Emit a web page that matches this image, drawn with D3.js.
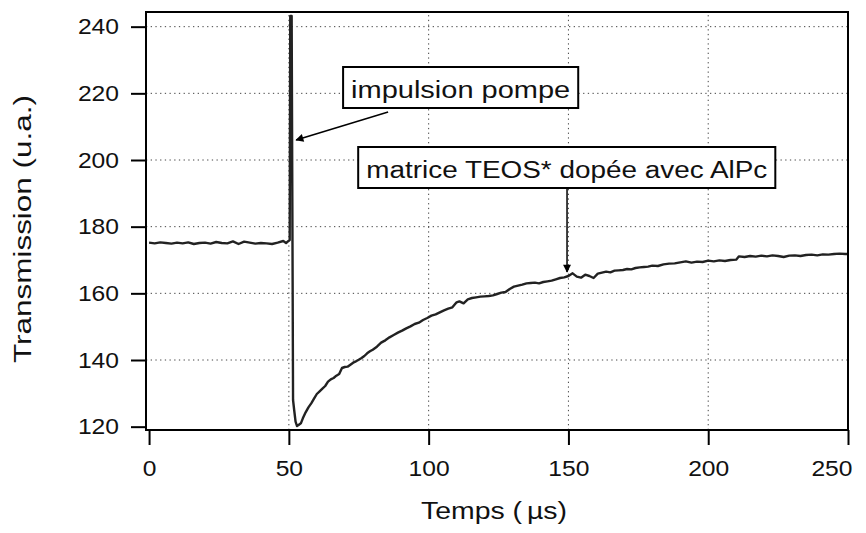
<!DOCTYPE html>
<html>
<head>
<meta charset="utf-8">
<script src="https://cdn.jsdelivr.net/npm/d3@7"></script>
<style>
  html, body { margin: 0; padding: 0; background: #fff; }
  svg { display: block; }
  text { font-family: "Liberation Sans", Arial, Helvetica, sans-serif; fill: #111; }
</style>
</head>
<body>
<svg id="chart" width="866" height="533"></svg>
<script>
// Time axis (µs) and transmission trace (u.a.)
const timeUs = [
  0, 2, 4, 6, 8, 10, 12, 14, 16, 18, 20, 22, 24, 26, 28, 30, 32, 34, 36, 38, 40, 42, 44, 46, 48, 49, 50,
  50.3, 50.5, 51.0, 51.3, 51.5, 51.9, 52.4, 52.9,
  53.6, 54.3, 55, 56, 57, 58, 59, 60, 61, 62, 63, 64, 65, 66, 67, 68, 69, 70, 71, 72, 73, 74, 75, 76, 77, 78, 79, 80,
  81.5, 83, 84.5, 86, 87.5, 89, 90.5, 92, 93.5, 95, 96.5, 98, 99.5, 101, 102.5, 104, 105.5, 107, 108.5,
  110, 111, 112.5, 114, 115.5, 117, 118.5, 120, 121.5, 123, 124.5, 126, 127.5, 129, 130.5, 132, 133.5,
  135, 136.5, 138, 139.5, 141, 142.5, 144, 145.5, 147, 148.5, 150, 151.5, 153, 154.5, 156, 157.5, 159,
  160.5, 162, 163.5, 165, 166.5, 168, 169.5, 171, 172.5, 174, 175.5, 177, 178.5, 180, 182, 184, 186, 188,
  190, 192, 194, 196, 198, 200, 202, 204, 206, 208, 210, 211, 213, 215, 217, 219, 221, 223, 225, 227, 229,
  231, 233, 235, 237, 239, 241, 243, 245, 247, 249, 250
];
const transmission = [
  175.2, 175.0, 175.3, 175.1, 174.9, 175.2, 175.0, 175.3, 174.8, 175.1, 175.2, 174.9, 175.4, 175.1, 175.0, 175.6, 174.8, 175.5, 175.2, 174.9, 175.1, 175.0, 174.8, 175.2, 175.7, 175.1, 175.8,
  176.0, 243.2, 243.2, 175.0, 128.0, 125.0, 121.5, 120.2,
  120.6, 121.0, 122.5, 124.3, 125.8, 127.0, 128.4, 129.8, 130.6, 131.4, 132.2, 133.5, 134.2, 134.6, 135.3, 135.8, 137.6, 137.9, 138.0, 138.6, 139.2, 139.6, 140.1, 140.6, 141.2, 142.0, 142.6, 143.1,
  144.0, 145.2, 145.9, 146.8, 147.5, 148.2, 148.8, 149.5, 150.1, 150.8, 151.2, 152.0, 152.6, 153.3, 153.7, 154.3, 154.9, 155.4, 155.8,
  157.3, 157.6, 157.0, 158.2, 158.6, 158.8, 159.0, 159.1, 159.2, 159.4, 159.8, 160.2, 160.4, 161.3, 162.0, 162.3, 162.6,
  163.0, 163.1, 163.2, 163.0, 163.4, 163.6, 163.8, 164.2, 164.6, 164.8, 165.2, 166.0, 165.0, 164.7, 165.6, 165.2, 164.6,
  165.9, 166.2, 166.5, 166.3, 166.8, 166.9, 167.0, 167.3, 167.2, 167.6, 167.8, 167.9, 168.0, 168.3, 168.2, 168.7, 168.9, 169.0,
  169.3, 169.6, 169.2, 169.5, 169.4, 169.8, 169.6, 169.9, 169.7, 170.0, 170.1, 171.1, 170.9, 171.2, 171.0, 171.3, 171.1, 171.4, 171.2, 170.9, 171.3,
  171.4, 171.2, 171.5, 171.6, 171.4, 171.7, 171.6, 171.8, 171.9, 171.8, 171.8
];
const xTicks = [0, 50, 100, 150, 200, 250];
const yTicks = [120, 140, 160, 180, 200, 220, 240];
const xGrid = [50, 100, 150, 200];
const yGrid = [140, 160, 180, 200, 220, 240];

// Callout boxes with arrows: box corners and arrow ends in data units
const calloutText = ["impulsion pompe", "matrice TEOS* dopée avec AlPc"];
const calloutBox = [[69.4, 227.9, 153.5, 215.6], [74.8, 203.9, 224.0, 191.6]];
const calloutArrow = [[85.5, 214.4, 52.6, 206.0], [149.5, 191.6, 149.5, 166.4]];

const svg = d3.select("#chart");
const W = 866, H = 533;
const margin = { left: 146, right: 18, top: 12, bottom: 103 };
const x = d3.scaleLinear().domain([-1.1, 250]).range([margin.left, W - margin.right]);
const y = d3.scaleLinear().domain([119, 244.4]).range([H - margin.bottom, margin.top]);

function stretchText(sel, k) {
  sel.each(function () {
    const w = this.getComputedTextLength();
    this.setAttribute("textLength", w * k);
    this.setAttribute("lengthAdjust", "spacingAndGlyphs");
  });
}

// dotted grid
const grid = svg.append("g").attr("stroke", "#444").attr("stroke-width", 1)
  .attr("stroke-dasharray", "1.3,3.4");
grid.selectAll("line.h").data(yGrid).join("line")
  .attr("x1", x.range()[0]).attr("x2", x.range()[1])
  .attr("y1", d => y(d)).attr("y2", d => y(d));
grid.selectAll("line.v").data(xGrid).join("line")
  .attr("y1", y.range()[0]).attr("y2", y.range()[1])
  .attr("x1", d => x(d)).attr("x2", d => x(d));

// trace
const pts = timeUs.map((t, i) => [t, transmission[i]]);
svg.append("path").datum(pts)
  .attr("fill", "none").attr("stroke", "#222").attr("stroke-width", 2.4)
  .attr("stroke-linejoin", "round")
  .attr("d", d3.line().x(d => x(d[0])).y(d => y(d[1])));

// axes
const xAxis = svg.append("g").attr("transform", `translate(0,${y.range()[0]})`)
  .call(d3.axisBottom(x).tickValues(xTicks).tickSize(15).tickPadding(15).tickSizeOuter(0));
const yAxis = svg.append("g").attr("transform", `translate(${x.range()[0]},0)`)
  .call(d3.axisLeft(y).tickValues(yTicks).tickSize(15).tickPadding(12).tickSizeOuter(0));
[xAxis, yAxis].forEach(a => {
  a.select(".domain").remove();
  a.selectAll(".tick line").attr("stroke", "#000").attr("stroke-width", 2);
  a.selectAll(".tick text").attr("font-size", 22).attr("fill", "#111")
    .style("font-family", '"Liberation Sans", Arial, sans-serif');
  stretchText(a.selectAll(".tick text"), 1.12);
});
// keep the last time label inside the figure
xAxis.selectAll(".tick text").filter(d => d === 250)
  .attr("text-anchor", "end").attr("x", 4);

// frame
svg.append("rect")
  .attr("x", x.range()[0]).attr("y", y.range()[1])
  .attr("width", x.range()[1] - x.range()[0]).attr("height", y.range()[0] - y.range()[1])
  .attr("fill", "none").attr("stroke", "#000").attr("stroke-width", 2);

// axis titles
const xt = svg.append("text").attr("x", 494).attr("y", 519).attr("text-anchor", "middle")
  .attr("font-size", 23).attr("textLength", 146).attr("lengthAdjust", "spacingAndGlyphs");
xt.append("tspan").text("Temps (");
xt.append("tspan").attr("dx", 4).text("\u00b5s)");
svg.append("text").attr("transform", "translate(31,229) rotate(-90)")
  .attr("text-anchor", "middle").attr("font-size", 23)
  .attr("textLength", 268).attr("lengthAdjust", "spacingAndGlyphs")
  .text("Transmission (u.a.)");

// arrowhead
svg.append("defs").append("marker")
  .attr("id", "head").attr("viewBox", "0 0 10 10").attr("refX", 9).attr("refY", 5)
  .attr("markerWidth", 11).attr("markerHeight", 8).attr("markerUnits", "userSpaceOnUse")
  .attr("orient", "auto")
  .append("path").attr("d", "M0,0 L10,5 L0,10 Z").attr("fill", "#000");

// callouts
calloutText.forEach((label, i) => {
  const [t0, v0, t1, v1] = calloutBox[i];
  const bx = x(t0), by = y(v0), bw = x(t1) - x(t0), bh = y(v1) - y(v0);
  const [a0, b0, a1, b1] = calloutArrow[i];
  svg.append("line")
    .attr("x1", x(a0)).attr("y1", y(b0)).attr("x2", x(a1)).attr("y2", y(b1))
    .attr("stroke", "#000").attr("stroke-width", 1.5).attr("marker-end", "url(#head)");
  svg.append("rect").attr("x", bx).attr("y", by).attr("width", bw).attr("height", bh)
    .attr("fill", "#fff").attr("stroke", "#000").attr("stroke-width", 2);
  svg.append("text").attr("x", bx + 8).attr("y", by + bh * 0.75)
    .attr("font-size", 23).attr("textLength", bw - 16).attr("lengthAdjust", "spacingAndGlyphs")
    .text(label);
});
</script>
</body>
</html>
